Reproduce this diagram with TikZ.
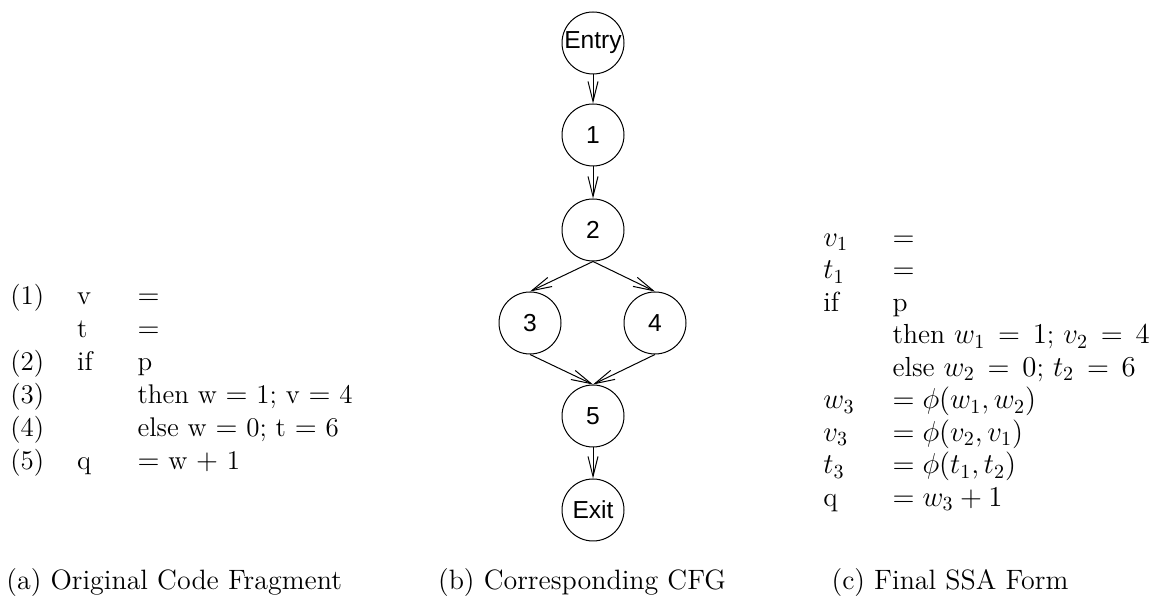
\documentclass[tikz,border=0pt]{standalone}
\usepackage{fontspec}
\usetikzlibrary{arrows.meta}
\newfontfamily\nodefont{Liberation Sans}
\begin{document}
\begin{tikzpicture}[x=0.5pt,y=-0.5pt,
  cfg/.style={draw,circle,line width=0.5pt,minimum size=31pt,inner sep=0pt,font=\nodefont\fontsize{12.3}{14}\selectfont},
  edge/.style={line width=0.5pt,-{Straight Barb[length=10pt,width=5pt,line width=0.5pt]}},
  txt/.style={inner sep=0pt,font=\fontsize{13.5}{16.5}\selectfont},
  rtxt/.style={inner sep=0pt,font=\fontsize{13.8}{16.25}\selectfont},
  captext/.style={inner sep=0pt,anchor=base,font=\fontsize{14}{16.5}\selectfont}]
\useasboundingbox (0,0) rectangle (1151,613);
% left code
\node[txt,anchor=west] (code) at (10,380) {\setlength{\tabcolsep}{0pt}%
\begin{tabular}{@{}l@{\hspace{16.5pt}}l@{\hspace{22.5pt}}l@{}}
(1) & v & $=$\\
    & t & $=$\\
(2) & if & p\\
(3) & & then w $=$ 1; v $=$ 4\\
(4) & & else w $=$ 0; t $=$ 6\\
(5) & q & $=$ w $+$ 1
\end{tabular}};
% CFG
\node[cfg] (entry) at (593,43) {Entry};
\node[cfg] (n1) at (593,135) {1};
\node[cfg] (n2) at (593,230) {2};
\node[cfg] (n3) at (530,323) {3};
\node[cfg] (n4) at (655,323) {4};
\node[cfg] (n5) at (593,416) {5};
\node[cfg] (exit) at (593,510) {Exit};
\draw[edge] (entry.south) -- (n1.north);
\draw[edge] (n1.south) -- (n2.north);
\draw[edge] (n2.south) -- (n3.north);
\draw[edge] (n2.south) -- (n4.north);
\draw[edge] (n3.south) -- (n5.north);
\draw[edge] (n4.south) -- (n5.north);
\draw[edge] (n5.south) -- (exit.north);
% SSA
\node[rtxt,anchor=west] (ssa) at (823,370) {\setlength{\tabcolsep}{0pt}%
\begin{tabular}{@{}l@{\hspace{19pt}}l@{}}
$v_1$ & $=$\\
$t_1$ & $=$\\
if & p\\
 & then $w_1 \,=\, 1$; $v_2 \,=\, 4$\\
 & else $w_2 \,=\, 0$; $t_2 \,=\, 6$\\
$w_3$ & $= \phi(w_1, w_2)$\\
$v_3$ & $= \phi(v_2, v_1)$\\
$t_3$ & $= \phi(t_1, t_2)$\\
q & $= w_3 + 1$
\end{tabular}};
% captions
\node[captext,anchor=base west] (capa) at (6,590) {(a) Original Code Fragment};
\node[captext] (capb) at (582,590) {(b) Corresponding CFG};
\node[captext] (capc) at (950,590) {(c) Final SSA Form};
\end{tikzpicture}
\end{document}
